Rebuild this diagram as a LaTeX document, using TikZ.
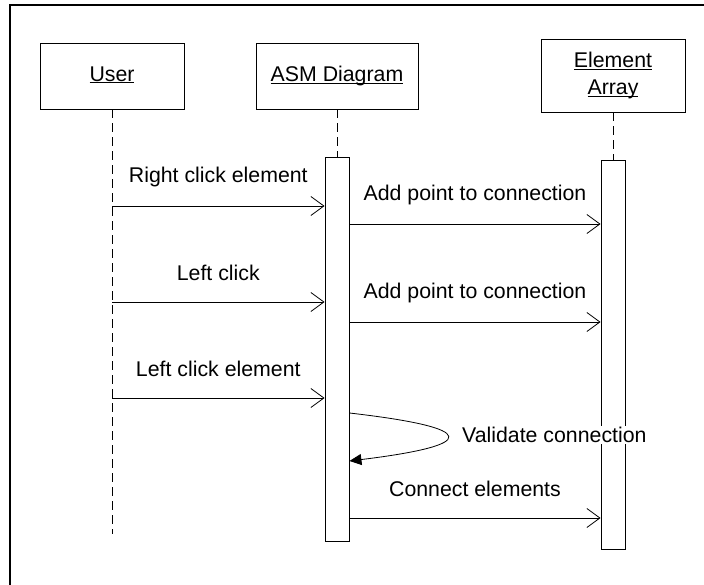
\documentclass[tikz,border=0pt]{standalone}
\usepackage{fontspec}
\setmainfont{Liberation Sans}
\usetikzlibrary{arrows.meta,positioning}
\newcommand{\ulname}[1]{\underline{\raisebox{0pt}[\height][0pt]{#1}}\vphantom{g}}
\tikzset{
  obj/.style={draw,line width=0.9pt,align=center,inner sep=0pt,font=\fontsize{21.3}{25}\selectfont},
  act/.style={draw,line width=0.9pt,fill=white,minimum width=24pt,inner sep=0pt},
  life/.style={line width=0.8pt,dash pattern=on 9pt off 5pt},
  msg/.style={line width=0.8pt,-{Straight Barb[length=13pt,width=19pt]}},
  lbl/.style={midway,yshift=29pt,inner sep=0pt,font=\fontsize{21.3}{25}\selectfont}
}
\begin{document}
\begin{tikzpicture}[x=1pt,y=-1pt]
\useasboundingbox (0,0) rectangle (704,585);
% rahmen
\draw[line width=1.4pt] (10,585) -- (10,5) -- (704,5);
% objekte
\node[obj,minimum width=144pt,minimum height=66pt] (user) at (112,76) {\ulname{User}};
\node[obj,minimum width=162pt,minimum height=66pt] (asm) at (337,76) {\ulname{ASM Diagram}};
\node[obj,minimum width=144pt,minimum height=73pt] (arr) at (613,75.5) {\ulname{Element}\\[2pt]\ulname{Array}};
% lebenslinien
\coordinate (userend) at (112,534);
\draw[life] (user.south) -- (userend);
\node[act,minimum height=384pt] (asmact) at (337,349) {};
\node[act,minimum height=389pt] (arract) at (613,354.5) {};
\draw[life] (asm.south) -- (asmact.north);
\draw[life] (arr.south) -- (arract.north);
% nachrichten
\draw[msg] (user.south |- 0,206) -- (asmact.west |- 0,206) node[lbl] (m1) {Right click element};
\draw[msg] (asmact.east |- 0,224) -- (arract.west |- 0,224) node[lbl] (m2) {Add point to connection};
\draw[msg] (user.south |- 0,302) -- (asmact.west |- 0,302) node[lbl] (m3) {Left click};
\draw[msg] (asmact.east |- 0,322) -- (arract.west |- 0,322) node[lbl] (m4) {Add point to connection};
\draw[msg] (user.south |- 0,398) -- (asmact.west |- 0,398) node[lbl] (m5) {Left click element};
% selbstaufruf
\draw[line width=0.8pt,-{Triangle[length=12pt,width=11pt]}] (asmact.east |- 0,413) .. controls (480,428) and (480,445) .. (asmact.east |- 0,461);
\node[anchor=west,fill=white,inner sep=1pt,font=\fontsize{21.3}{25}\selectfont] (m6) at (461,435) {Validate connection};
\draw[msg] (asmact.east |- 0,518) -- (arract.west |- 0,518) node[lbl] (m7) {Connect elements};
\end{tikzpicture}
\end{document}
